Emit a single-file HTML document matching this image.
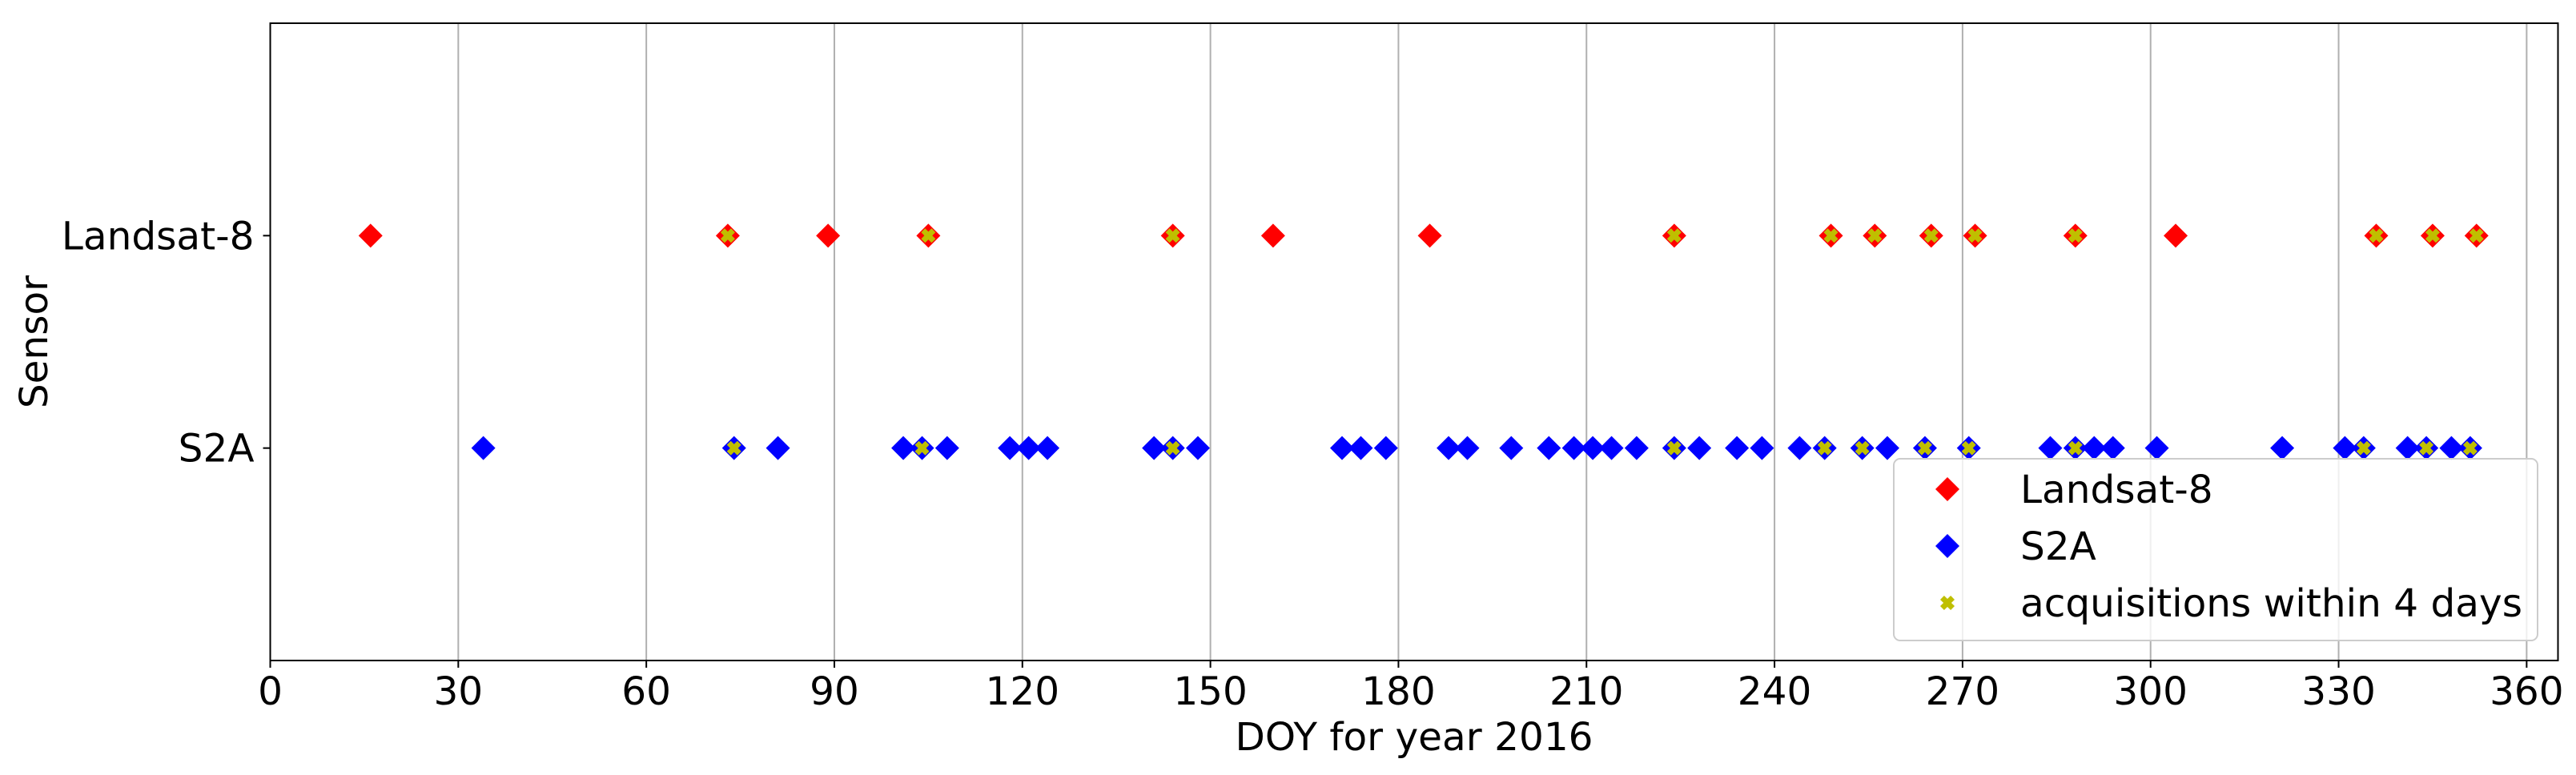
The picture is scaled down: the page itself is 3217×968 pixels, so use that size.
<!DOCTYPE html>
<html><head><meta charset="utf-8"><style>
html,body{margin:0;padding:0;background:#fff;}
svg{display:block;font-family:"DejaVu Sans","Liberation Sans",sans-serif;}
</style></head><body>
<svg id="chart" width="3217" height="968" viewBox="0 0 3217 968" xmlns="http://www.w3.org/2000/svg">
<g id="grid"></g>
<g id="marks"></g>
<rect x="337.5" y="29" width="2857" height="796" fill="none" stroke="#000" stroke-width="2"/>
<g id="xticks"></g>
<g id="yticks"></g>
<text x="1766" y="937" font-size="48.5" text-anchor="middle">DOY for year 2016</text>
<text x="0" y="0" font-size="48.5" text-anchor="middle" transform="translate(59,427) rotate(-90)">Sensor</text>
<g>
<rect x="2365" y="573" width="804" height="227" rx="8" fill="#fff" fill-opacity="0.8" stroke="#ccc" stroke-width="2"/>
<g>
<polygon points="2432,596 2447,611 2432,626 2417,611" fill="#ff0000"/>
<text x="2523" y="628" font-size="48.5">Landsat-8</text></g>
<g>
<polygon points="2432,667 2447,682 2432,697 2417,682" fill="#0000ff"/>
<text x="2523" y="699" font-size="48.5">S2A</text></g>
<g>
<path id="legX" fill="#bfbf00"/>
<text x="2523" y="770" font-size="48.5">acquisitions within 4 days</text></g>
</g>
</svg>
<script>
const xTicks = [0,30,60,90,120,150,180,210,240,270,300,330,360];
const yCategories = ["S2A","Landsat-8"];
const landsatDOY = [16,73,89,105,144,160,185,224,249,256,265,272,288,304,336,345,352];
const s2aDOY = [34,74,81,101,104,108,118,121,124,141,144,148,171,174,178,188,191,198,204,208,211,214,218,224,228,234,238,244,248,254,258,264,271,284,288,291,294,301,321,331,334,341,344,348,351];
const landsatAcq = [73,105,144,224,249,256,265,272,288,336,345,352];
const s2aAcq = [74,104,144,224,248,254,264,271,288,334,344,351];

const NS='http://www.w3.org/2000/svg';
const X0=337.5, X1=3194.5, XMIN=0, XMAX=365;
const Y0=825, Y1=29, YMIN=-1, YMAX=2;
const xs=v=>X0+(v-XMIN)/(XMAX-XMIN)*(X1-X0);
const ys=v=>Y0+(v-YMIN)/(YMAX-YMIN)*(Y1-Y0);
function mk(tag,attrs,parent){const e=document.createElementNS(NS,tag);for(const k in attrs)e.setAttribute(k,attrs[k]);parent.appendChild(e);return e;}
function xPath(cx,cy,r){const t=r*0.55;
 const p=[[-r+t,-r],[0,-t],[r-t,-r],[r,-r+t],[t,0],[r,r-t],[r-t,r],[0,t],[-r+t,r],[-r,r-t],[-t,0],[-r,-r+t]];
 return 'M'+p.map(q=>(cx+q[0]).toFixed(1)+','+(cy+q[1]).toFixed(1)).join('L')+'Z';}
document.getElementById('legX').setAttribute('d',xPath(2432,753,9));

const grid=document.getElementById('grid'), xt=document.getElementById('xticks'), yt=document.getElementById('yticks'), marks=document.getElementById('marks');
xTicks.forEach(t=>{
 const x=xs(t);
 const g=mk('line',{x1:x,x2:x,y1:Y1,y2:Y0,stroke:'#b0b0b0','stroke-width':2},grid);
 
 
 const tk=mk('line',{x1:x,x2:x,y1:Y0,y2:Y0+9,stroke:'#000','stroke-width':2},xt);
 
 
 const lb=mk('text',{x:x,y:880,'font-size':48.5,'text-anchor':'middle'},xt);
 lb.textContent=t;
 
 
});
yCategories.forEach((c,i)=>{
 const y=ys(i);
 const tk=mk('line',{x1:X0-9,x2:X0,y1:y,y2:y,stroke:'#000','stroke-width':2},yt);
 
 
 const lb=mk('text',{x:X0-20,y:y+17,'font-size':48.5,'text-anchor':'end'},yt);
 lb.textContent=c;
 
 
});
function diamonds(arr,yv,color,name){
 const y=ys(yv), r=15;
 arr.forEach(d=>{const x=xs(d);
  const p=mk('polygon',{points:`${x},${y-r} ${x+r},${y} ${x},${y+r} ${x-r},${y}`,fill:color},marks);
  
  
 });
}
function crosses(arr,yv,name){
 const y=ys(yv);
 arr.forEach(d=>{
  const p=mk('path',{d:xPath(xs(d),y,9),fill:'#bfbf00'},marks);
  
  
 });
}
diamonds(landsatDOY,1,'#ff0000','landsat');
diamonds(s2aDOY,0,'#0000ff','s2a');
crosses(landsatAcq,1,'landsat');
crosses(s2aAcq,0,'s2a');
</script>
</body></html>
